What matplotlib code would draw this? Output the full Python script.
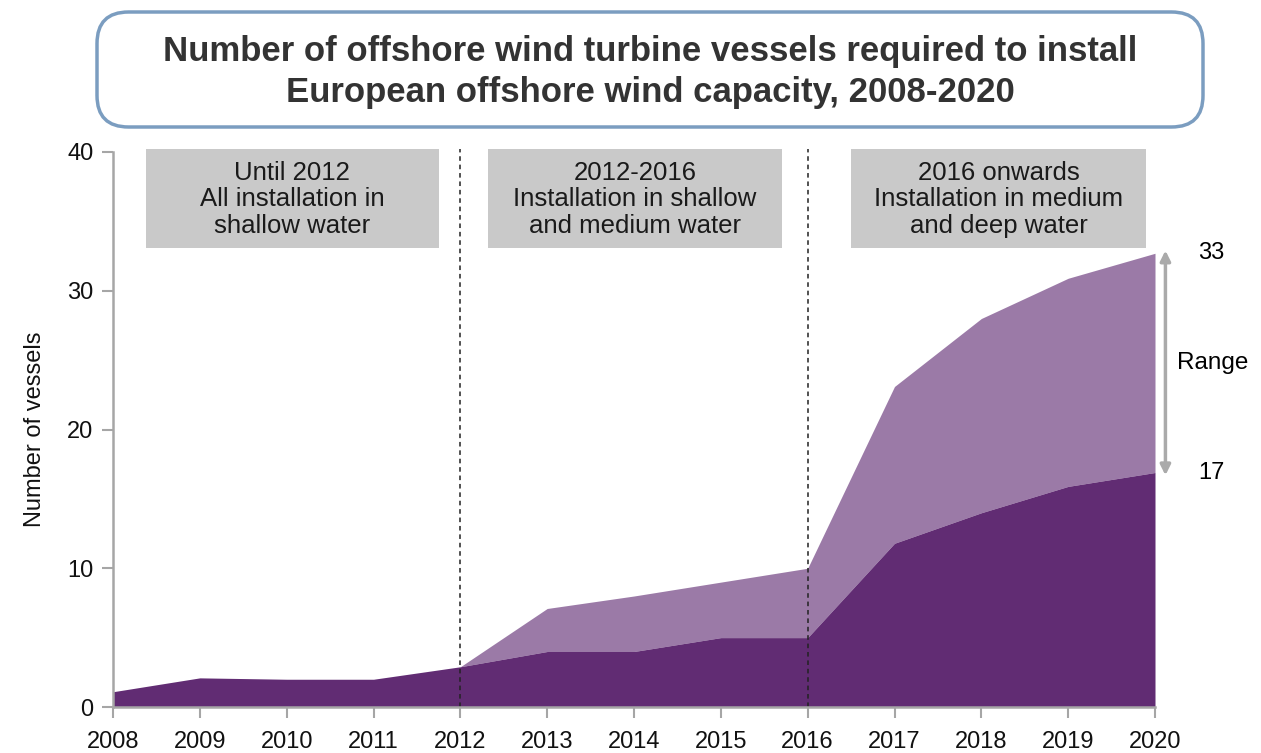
import matplotlib
matplotlib.use("Agg")
import matplotlib.pyplot as plt
from matplotlib.patches import FancyBboxPatch, Rectangle

plt.rcParams['font.family'] = ['Liberation Sans', 'DejaVu Sans']

years = [2008, 2009, 2010, 2011, 2012, 2013, 2014, 2015, 2016, 2017, 2018, 2019, 2020]
low = [1.1, 2.1, 2.0, 2.0, 2.9, 4.0, 4.0, 5.0, 5.0, 11.8, 14.0, 15.9, 16.9]
high = [1.1, 2.1, 2.0, 2.0, 2.9, 7.1, 8.0, 9.0, 10.0, 23.1, 28.0, 30.9, 32.7]
yticks = [0, 10, 20, 30, 40]
dividers = [2012, 2016]
phase_labels = ["Until 2012\nAll installation in\nshallow water",
                "2012-2016\nInstallation in shallow\nand medium water",
                "2016 onwards\nInstallation in medium\nand deep water"]
phase_spans = [(2008.38, 2011.75), (2012.32, 2015.7), (2016.5, 2019.9)]
title = "Number of offshore wind turbine vessels required to install\nEuropean offshore wind capacity, 2008-2020"

dark = "#612c73"
light = "#9b7aa7"
gray = "#a6a6a6"

fig = plt.figure(figsize=(12.61, 7.53), dpi=100)
ax = fig.add_axes([113/1261, 46/753, (1155-113)/1261, (707-152)/753])
ax.fill_between(years, low, high, color=light, linewidth=0)
ax.fill_between(years, 0, low, color=dark, linewidth=0)
ax.set_xlim(2008, 2020)
ax.set_ylim(0, 40)
ax.set_xticks(years)
ax.set_yticks(yticks)
ax.tick_params(axis='both', colors=gray, length=8, width=1.5, labelsize=17, labelcolor='#111111')
ax.tick_params(axis='x', pad=9)
ax.tick_params(axis='y', pad=6)
for s in ['top', 'right']:
    ax.spines[s].set_visible(False)
for s in ['left', 'bottom']:
    ax.spines[s].set_color(gray)
    ax.spines[s].set_linewidth(1.8)
ax.set_ylabel("Number of vessels", fontsize=17, labelpad=15, color='#111111')

for d in dividers:
    ax.plot([d, d], [0, 40.2], color='#222222', linestyle=(0, (3, 2.5)), linewidth=1.1, clip_on=False)

for lab, (x0, x1) in zip(phase_labels, phase_spans):
    ax.add_patch(Rectangle((x0, 33.1), x1 - x0, 7.1, facecolor='#c9c9c9', edgecolor='none', clip_on=False))
    ax.text((x0 + x1) / 2, 36.6, lab, ha='center', va='center', fontsize=18.5, color='#1a1a1a', linespacing=1.13)

# range annotation
ax.annotate('', xy=(2020.12, 32.9), xytext=(2020.12, 16.7),
            arrowprops=dict(arrowstyle='<|-|>', color='#aaaaaa', lw=2.5, mutation_scale=15, shrinkA=0, shrinkB=0),
            annotation_clip=False)
ax.text(2020.65, 32.7, "33", ha='center', va='center', fontsize=17)
ax.text(2020.65, 16.9, "17", ha='center', va='center', fontsize=17)
ax.text(2020.25, 24.8, "Range", ha='left', va='center', fontsize=17.5)

# title box
box = FancyBboxPatch((97/1261, (753-127)/753), (1203-97)/1261, (127-12)/753,
                     boxstyle="round,pad=0,rounding_size=0.025", transform=fig.transFigure,
                     facecolor='white', edgecolor='#7b9dc0', linewidth=2.5, mutation_aspect=1261/753)
fig.patches.append(box)
fig.text(650/1261, (753-72)/753, title, ha='center', va='center', fontsize=25, fontweight='bold',
         color='#333333', linespacing=1.32)

fig.savefig("out.png", dpi=100)
